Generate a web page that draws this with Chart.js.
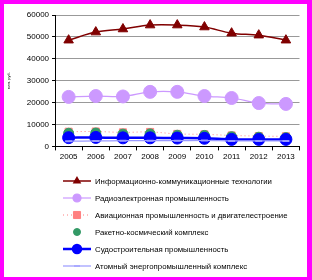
<!DOCTYPE html>
<html>
<head>
<meta charset="utf-8">
<script src="https://cdn.jsdelivr.net/npm/chart.js@4.4.0/dist/chart.umd.min.js"></script>
<style>
body { margin: 0; background: #ff00ff; }
#wrap { position: absolute; left: 4px; top: 4px; width: 303px; height: 273px; background: #fff; }
</style>
</head>
<body>
<div id="wrap"><canvas id="myChart"></canvas></div>
<script>
var years = ["2005", "2006", "2007", "2008", "2009", "2010", "2011", "2012", "2013"];
var ikt    = [48500, 52200, 53600, 55400, 55400, 54500, 51700, 50800, 48500];
var radio  = [22600, 23000, 22800, 24900, 24900, 23000, 22100, 19800, 19400];
var avia   = [6700, 6800, 6400, 6600, 5700, 5500, 5000, 4700, 4600];
var raket  = [6000, 6100, 5600, 5700, 5100, 5000, 4400, 4200, 4000];
var sudo   = [4000, 4100, 3900, 3900, 3800, 3700, 3200, 3200, 3200];
var atom   = [2400, 2500, 2600, 2600, 2600, 2700, 2500, 2500, 2500];
var yTicks = [0, 10000, 20000, 30000, 40000, 50000, 60000];

var FONT = '"Liberation Sans Narrow", "Liberation Sans", Arial, sans-serif';

// legend drawn by hand: one row per series, line + marker like in Excel
var legendPlugin = {
    id: 'rowLegend',
    afterDraw: function(chart) {
        var ctx = chart.ctx;
        ctx.save();
        chart.data.datasets.forEach(function(ds, i) {
            var y = 177 + i * 17;
            var x0 = 59, x1 = 87;
            if (ds.showLine !== false) {
                ctx.beginPath();
                ctx.strokeStyle = ds.borderColor;
                ctx.lineWidth = ds.borderWidth;
                ctx.setLineDash(ds.borderDash || []);
                ctx.moveTo(x0, y);
                ctx.lineTo(x1, y);
                ctx.stroke();
                ctx.setLineDash([]);
            }
            ctx.fillStyle = ds.pointBackgroundColor;
            ctx.strokeStyle = ds.pointBorderColor;
            Chart.helpers.drawPoint(ctx, {
                pointStyle: ds.pointStyle,
                radius: ds.legendRadius,
                borderWidth: ds.pointBorderWidth,
                rotation: 0
            }, (x0 + x1) / 2, y);
            ctx.fillStyle = '#000';
            ctx.font = '7.8px ' + FONT;
            ctx.textBaseline = 'middle';
            ctx.fillText(ds.label, 91, y + 0.5);
        });
        ctx.restore();
    }
};

var ctx = document.getElementById('myChart').getContext('2d');
var chart = new Chart(ctx, {
    type: 'line',
    data: {
        labels: years,
        datasets: [{
            label: 'Информационно-коммуникационные технологии',
            data: ikt,
            borderColor: '#800000', borderWidth: 1.5, tension: 0.35,
            pointStyle: 'triangle', pointRadius: 5.5, legendRadius: 3.5,
            pointBackgroundColor: '#800000', pointBorderColor: '#800000', pointBorderWidth: 1,
            order: 6
        }, {
            label: 'Радиоэлектронная промышленность',
            data: radio,
            borderColor: '#cc99ff', borderWidth: 1.2, tension: 0.35,
            pointStyle: 'circle', pointRadius: 6.5, legendRadius: 4,
            pointBackgroundColor: '#cc99ff', pointBorderColor: '#cc99ff', pointBorderWidth: 1,
            order: 5
        }, {
            label: 'Авиационная промышленность и двигателестроение',
            data: avia,
            borderColor: '#ff8080', borderWidth: 1, borderDash: [1, 3], tension: 0.35,
            pointStyle: 'rect', pointRadius: 5, legendRadius: 5,
            pointBackgroundColor: '#ff8080', pointBorderColor: '#ff8080', pointBorderWidth: 1,
            order: 4
        }, {
            label: 'Ракетно-космический комплекс',
            data: raket,
            showLine: false, borderColor: '#339966', borderWidth: 1,
            pointStyle: 'circle', pointRadius: 5, legendRadius: 3.5,
            pointBackgroundColor: '#339966', pointBorderColor: '#339966', pointBorderWidth: 1,
            order: 3
        }, {
            label: 'Судостроительная промышленность',
            data: sudo,
            borderColor: '#0000ff', borderWidth: 2.5, tension: 0.35,
            pointStyle: 'circle', pointRadius: 6, legendRadius: 4,
            pointBackgroundColor: '#0000ff', pointBorderColor: '#0000ff', pointBorderWidth: 1,
            order: 2
        }, {
            label: 'Атомный энергопромышленный комплекс',
            data: atom,
            borderColor: '#9999ff', borderWidth: 1.2, tension: 0.35,
            pointStyle: 'line', pointRadius: 3.5, legendRadius: 3,
            pointBackgroundColor: '#9999ff', pointBorderColor: '#9999ff', pointBorderWidth: 2,
            order: 1
        }]
    },
    options: {
        responsive: true,
        maintainAspectRatio: false,
        animation: false,
        layout: { padding: { top: 11, right: 6, bottom: 113, left: 2 } },
        plugins: { legend: { display: false }, tooltip: { enabled: false } },
        scales: {
            x: {
                offset: true,
                grid: { offset: true, drawOnChartArea: false, tickLength: 4, color: '#000' },
                border: { color: '#000', width: 1 },
                ticks: { color: '#000', font: { family: FONT, size: 8 }, maxRotation: 0, padding: 2 }
            },
            y: {
                min: 0, max: 60000,
                afterBuildTicks: function(axis) {
                    axis.ticks = yTicks.map(function(v) { return { value: v }; });
                },
                grid: { color: '#999', lineWidth: 1, tickLength: 3, tickColor: '#000' },
                border: { color: '#000', width: 1 },
                ticks: { color: '#000', font: { family: FONT, size: 8 }, padding: 3,
                    callback: function(v) { return String(v); } },
                title: { display: true, text: 'млн. руб.', color: '#000',
                    font: { family: FONT, size: 4 }, padding: { top: 0, bottom: 13 } }
            }
        }
    },
    plugins: [legendPlugin]
});
</script>
</body>
</html>
